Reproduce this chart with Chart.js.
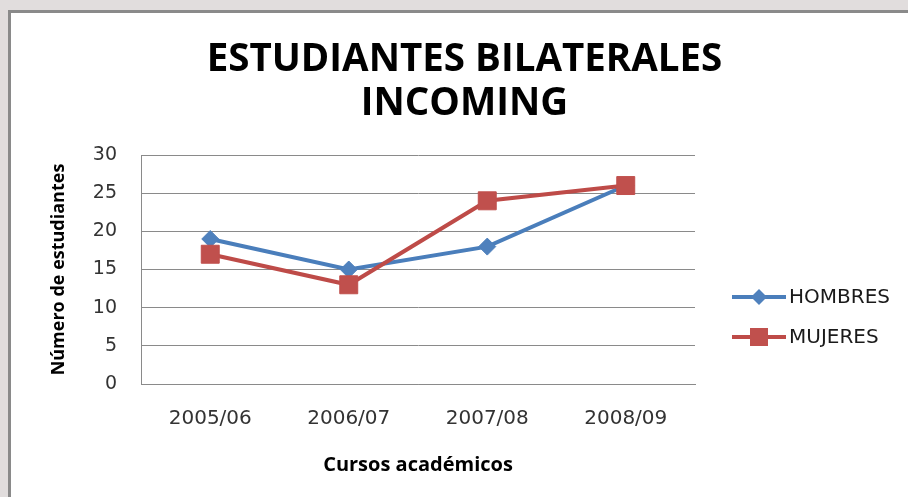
<!DOCTYPE html>
<html>
<head>
<meta charset="utf-8">
<title>Estudiantes bilaterales incoming</title>
<script src="https://cdn.jsdelivr.net/npm/chart.js"></script>
<style>
    body { margin: 0; background: #e1dddd; }
    canvas { display: block; }
</style>
</head>
<body>
<canvas id="grafico_incoming" width="908" height="497"></canvas>
<script>
var cursos = ['2005/06', '2006/07', '2007/08', '2008/09']
var hombres = [19, 15, 18, 26]
var mujeres = [17, 13, 24, 26]
var nombres_series = ['HOMBRES', 'MUJERES']
var titulo = ['ESTUDIANTES BILATERALES', 'INCOMING']
var titulo_y = 'Número de estudiantes'
var titulo_x = 'Cursos académicos'

var color_gris = '#8a8a8a'

// fondo gris y el recuadro blanco del grafico
var fondo = {
    id: 'fondo',
    beforeDraw: function (chart) {
        var ctx = chart.ctx
        ctx.save()
        ctx.fillStyle = '#e1dddd'
        ctx.fillRect(0, 0, chart.width, chart.height)
        ctx.fillStyle = '#ffffff'
        ctx.fillRect(8, 10, chart.width, chart.height)
        ctx.strokeStyle = color_gris
        ctx.lineWidth = 3
        ctx.beginPath()
        ctx.moveTo(9.5, chart.height + 5)
        ctx.lineTo(9.5, 11.5)
        ctx.lineTo(chart.width + 5, 11.5)
        ctx.stroke()
        ctx.restore()
    }
}

// leyenda a la derecha: linea con su marcador y el nombre
var leyenda = {
    id: 'leyenda',
    afterDraw: function (chart) {
        var ctx = chart.ctx
        var area = chart.chartArea
        var x0 = area.right + 37
        ctx.save()
        chart.data.datasets.forEach(function (ds, i) {
            var y = 297 + i * 40
            ctx.strokeStyle = ds.borderColor
            ctx.lineWidth = 4
            ctx.beginPath()
            ctx.moveTo(x0, y)
            ctx.lineTo(x0 + 54, y)
            ctx.stroke()
            ctx.fillStyle = ds.pointBackgroundColor
            ctx.beginPath()
            if (ds.pointStyle == 'rectRot') {
                ctx.moveTo(x0 + 27 - 8, y)
                ctx.lineTo(x0 + 27, y - 8)
                ctx.lineTo(x0 + 27 + 8, y)
                ctx.lineTo(x0 + 27, y + 8)
                ctx.closePath()
            } else {
                ctx.rect(x0 + 27 - 9, y - 9, 18, 18)
            }
            ctx.fill()
            ctx.fillStyle = '#1a1a1a'
            ctx.font = '20px "DejaVu Sans"'
            ctx.textBaseline = 'middle'
            ctx.textAlign = 'left'
            ctx.fillText(ds.label, x0 + 57, y + 1)
        })
        ctx.restore()
    }
}

var contexto = document.getElementById('grafico_incoming').getContext('2d')
var myChart_incoming = new Chart(contexto, {
    type: 'line',
    data: {
        labels: cursos,
        datasets: [{
            label: nombres_series[0],
            data: hombres,
            borderColor: '#4a7ebb',
            borderWidth: 4,
            pointStyle: 'rectRot',
            pointRadius: 8.5,
            pointBackgroundColor: '#4f81bd',
            pointBorderColor: '#4f81bd',
            pointBorderWidth: 1,
            tension: 0,
            order: 1
        }, {
            label: nombres_series[1],
            data: mujeres,
            borderColor: '#be4b48',
            borderWidth: 4,
            pointStyle: 'rect',
            pointRadius: 12.7,
            pointBackgroundColor: '#c0504d',
            pointBorderColor: '#c0504d',
            pointBorderWidth: 1,
            tension: 0,
            order: 0
        }]
    },
    options: {
        responsive: false,
        animation: false,
        devicePixelRatio: 1,
        layout: {
            padding: { left: 21, right: 0, top: 0, bottom: 0 }
        },
        plugins: {
            legend: { display: false },
            tooltip: { enabled: false },
            title: {
                display: true,
                text: titulo,
                color: '#000000',
                font: { family: '"Open Sans"', size: 38.5, weight: 'bold', lineHeight: 1.143 },
                padding: { top: 38, bottom: 29 }
            }
        },
        scales: {
            x: {
                offset: true,
                grid: { display: false, drawTicks: false },
                border: { display: true, color: color_gris, width: 1 },
                ticks: {
                    color: '#333333',
                    font: { family: '"DejaVu Sans"', size: 20 },
                    padding: 23,
                    maxRotation: 0
                },
                title: {
                    display: true,
                    text: titulo_x,
                    color: '#000000',
                    font: { family: '"Open Sans"', size: 20, weight: 'bold' },
                    padding: { top: 0, bottom: 20 }
                },
                afterFit: function (escala) { escala.height = 113 }
            },
            y: {
                min: 0,
                max: 30,
                grid: { color: color_gris, drawTicks: false },
                border: { display: true, color: color_gris, width: 1 },
                ticks: {
                    stepSize: 5,
                    color: '#333333',
                    font: { family: '"DejaVu Sans"', size: 19 },
                    padding: 24
                },
                title: {
                    display: true,
                    text: titulo_y,
                    color: '#000000',
                    font: { family: '"Open Sans"', size: 18, weight: 'bold' },
                    padding: { top: 27, bottom: 0 }
                },
                afterFit: function (escala) { escala.width = 120 }
            },
            espacio: {
                type: 'linear',
                position: 'right',
                display: true,
                grid: { display: false, drawTicks: false },
                border: { display: false },
                ticks: { display: false },
                afterFit: function (escala) { escala.width = 213 }
            }
        }
    },
    plugins: [fondo, leyenda]
})
</script>
</body>
</html>
